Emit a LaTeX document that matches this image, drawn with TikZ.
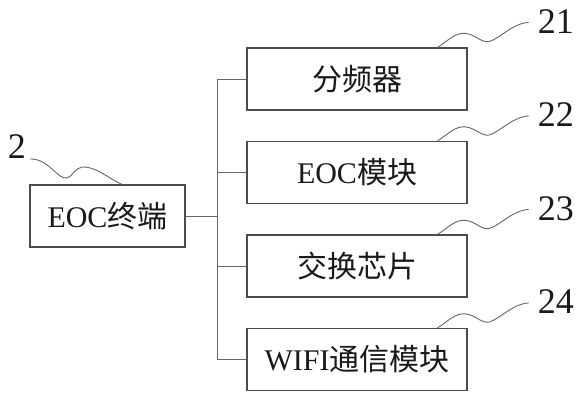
\documentclass[tikz,border=0pt]{standalone}
\usepackage{fontspec}
\setmainfont{Liberation Serif}
\newfontfamily\cjk{Noto Sans CJK SC}
\usepackage{tikz}
\usetikzlibrary{positioning}

\begin{document}
\begin{tikzpicture}[x=1pt, y=-1pt, node distance=93.5pt, on grid,
    block/.style={draw=black!70, line width=1.2pt, minimum width=220pt, minimum height=62pt,
        inner sep=0pt, font=\fontsize{30}{30}\selectfont, text=black!90},
    wire/.style={draw=black!60, line width=1pt},
    leader/.style={draw=black!60, line width=0.9pt},
    num/.style={inner sep=0pt, font=\fontsize{36}{36}\selectfont, text=black!90}]
    \useasboundingbox (0,0) rectangle (586,400);
    \node[block, minimum width=155pt] (eoc) at (107.5,216) {EOC{\cjk 终端}};
    \node[block] (fenpin) at (357,79) {{\cjk 分频器}};
    \node[block] (eocmk) [below=of fenpin] {EOC{\cjk 模块}};
    \node[block] (jiaohuan) [below=of eocmk] {{\cjk 交换芯片}};
    \node[block] (wifi) [below=of jiaohuan] {WIFI{\cjk 通信模块}};
    \coordinate (bus) at (217,216);
    % bus and branches
    \path[wire] (eoc.east) -- (eoc.east -| bus);
    \path[wire] (fenpin.west -| bus) -- (wifi.west -| bus);
    \foreach \b in {fenpin, eocmk, jiaohuan, wifi}
        \path[wire] (\b.west -| bus) -- (\b.west);
    % reference numbers
    \foreach \b/\n in {fenpin/21, eocmk/22, jiaohuan/23, wifi/24} {
        \begin{scope}[shift={(\b.north east)}]
            \path[leader] (-30,0) .. controls (-18,-8) and (-12,-15) .. (-2,-14)
                .. controls (8,-13) and (14,-4) .. (22,-6)
                .. controls (32,-9) and (45,-24) .. (61,-25);
            \node[num, anchor=west] (n\n) at (70,-26) {\n};
        \end{scope}
    }
    \node[num] (n2) at (17,147) {2};
    \path[leader] (30,159) .. controls (48,158) and (58,180) .. (67,178)
        .. controls (72,177) and (75,168) .. (82,167)
        .. controls (95,166) and (108,178) .. (eoc.north west -| 122,0);
\end{tikzpicture}
\end{document}
